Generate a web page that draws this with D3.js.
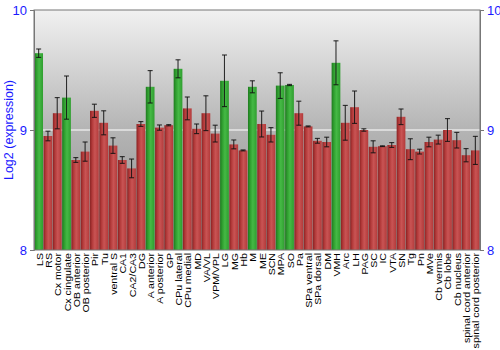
<!DOCTYPE html>
<html>
<head>
<meta charset="utf-8">
<script src="https://cdn.jsdelivr.net/npm/d3@7"></script>
<style>
  html, body { margin: 0; padding: 0; background: #fff; }
  svg { display: block; }
</style>
</head>
<body>
<svg id="chart" width="500" height="350"></svg>
<script>
// Brain regions
const regions = [
  "LS", "RS", "Cx motor", "Cx cingulate", "OB anterior", "OB posterior", "Pir", "Tu",
  "ventral S", "CA1", "CA2/CA3", "DG", "A anterior", "A posterior", "GP", "CPu lateral",
  "CPu medial", "MD", "VA/VL", "VPM/VPL", "LG", "MG", "Hb", "M", "ME", "SCN", "MPA", "SO",
  "Pa", "SPa ventral", "SPa dorsal", "DM", "VMH", "Arc", "LH", "PAG", "SC", "IC", "VTA",
  "SN", "Tg", "Pn", "MVe", "Cb vermis", "Cb lobe", "Cb nucleus", "spinal cord anterior",
  "spinal cord posterior"
];

// Mean log2 expression per region
const expression = [
  9.64, 8.95, 9.14, 9.27, 8.75, 8.82, 9.16, 9.06,
  8.87, 8.75, 8.68, 9.05, 9.36, 9.02, 9.04, 9.51,
  9.18, 9.01, 9.14, 8.97, 9.41, 8.88, 8.83, 9.36, 9.05, 8.96, 9.37, 9.375,
  9.14, 9.03, 8.91, 8.90, 9.56, 9.06, 9.19, 9.00, 8.86, 8.865, 8.875,
  9.11, 8.84, 8.82, 8.90, 8.92, 9.00, 8.915, 8.79,
  8.83
];

// Standard error per region
const stdErr = [
  0.035, 0.04, 0.13, 0.18, 0.02, 0.08, 0.055, 0.10,
  0.065, 0.028, 0.078, 0.02, 0.135, 0.022, 0.005, 0.075,
  0.095, 0.04, 0.145, 0.07, 0.215, 0.037, 0.004, 0.05, 0.108, 0.06, 0.107, 0.005,
  0.10, 0.004, 0.02, 0.04, 0.183, 0.145, 0.135, 0.01, 0.05, 0.003, 0.02,
  0.065, 0.087, 0.02, 0.04, 0.037, 0.095, 0.065, 0.055,
  0.117
];

// Regions flagged as enriched (drawn in green)
const enriched = ["LS", "Cx cingulate", "A anterior", "CPu lateral", "LG", "M", "MPA", "SO", "VMH"];

const yTicks = [8, 9, 10];
const yDomain = [8, 10];

const margin = { left: 34, right: 20, top: 10, bottom: 100 };
const W = 500, H = 350;
const iw = W - margin.left - margin.right;
const ih = H - margin.top - margin.bottom;

const svg = d3.select("#chart");
const defs = svg.append("defs");

// Background shading
const bg = defs.append("linearGradient").attr("id", "bgGrad")
  .attr("x1", 0).attr("y1", 0).attr("x2", 0).attr("y2", 1);
bg.append("stop").attr("offset", "0%").attr("stop-color", "#f1f1f1");
bg.append("stop").attr("offset", "50%").attr("stop-color", "#b4b4b4");
bg.append("stop").attr("offset", "100%").attr("stop-color", "#8c8c8c");

// Cylinder-like bar shading
function barGradient(id, dark, mid, light) {
  const g = defs.append("linearGradient").attr("id", id)
    .attr("x1", 0).attr("y1", 0).attr("x2", 1).attr("y2", 0);
  g.append("stop").attr("offset", "0%").attr("stop-color", dark);
  g.append("stop").attr("offset", "25%").attr("stop-color", mid);
  g.append("stop").attr("offset", "55%").attr("stop-color", light);
  g.append("stop").attr("offset", "100%").attr("stop-color", mid);
}
barGradient("redGrad", "#8a2222", "#b33a3a", "#c95454");
barGradient("greenGrad", "#1f7a1f", "#2f9e2f", "#45b945");

const g = svg.append("g").attr("transform", `translate(${margin.left},${margin.top})`);

const x = d3.scaleBand().domain(regions).range([0, iw]).paddingInner(0.06).paddingOuter(0.03);
const y = d3.scaleLinear().domain(yDomain).range([ih, 0]);

g.append("rect").attr("width", iw).attr("height", ih).attr("fill", "url(#bgGrad)");

// Gridlines
g.append("g").selectAll("line").data(yTicks.slice(1, -1)).join("line")
  .attr("x1", 0).attr("x2", iw)
  .attr("y1", d => y(d)).attr("y2", d => y(d))
  .attr("stroke", "#ffffff").attr("stroke-width", 1.2);

const data = regions.map((r, i) => ({ r, v: expression[i], e: stdErr[i] }));

// Bars
g.append("g").selectAll("rect").data(data).join("rect")
  .attr("x", d => x(d.r))
  .attr("width", x.bandwidth())
  .attr("y", d => y(d.v))
  .attr("height", d => ih - y(d.v))
  .attr("fill", d => enriched.includes(d.r) ? "url(#greenGrad)" : "url(#redGrad)");

// Error bars
const eb = g.append("g").attr("stroke", "#111").attr("stroke-opacity", 0.85).attr("stroke-width", 1.1);
data.forEach(d => {
  const cx = x(d.r) + x.bandwidth() / 2;
  const y0 = y(d.v - d.e), y1 = y(d.v + d.e);
  eb.append("line").attr("x1", cx).attr("x2", cx).attr("y1", y0).attr("y2", y1);
  eb.append("line").attr("x1", cx - 2.5).attr("x2", cx + 2.5).attr("y1", y0).attr("y2", y0);
  eb.append("line").attr("x1", cx - 2.5).attr("x2", cx + 2.5).attr("y1", y1).attr("y2", y1);
});

// Frame
g.append("rect").attr("width", iw).attr("height", ih)
  .attr("fill", "none").attr("stroke", "#777").attr("stroke-width", 1);

// Y axes on both sides
const styleAxis = sel => {
  sel.select(".domain").attr("stroke", "#777");
  sel.selectAll(".tick line").attr("stroke", "#777");
  sel.selectAll(".tick text").attr("fill", "#1a1aff")
    .attr("font-family", "Liberation Sans, Arial, sans-serif").attr("font-size", 13);
};
g.append("g").call(d3.axisLeft(y).tickValues(yTicks).tickFormat(d3.format("d")).tickSize(4).tickPadding(3)).call(styleAxis);
g.append("g").attr("transform", `translate(${iw},0)`)
  .call(d3.axisRight(y).tickValues(yTicks).tickFormat(d3.format("d")).tickSize(4).tickPadding(3)).call(styleAxis);

// Category labels (narrow glyphs, read bottom-to-top)
g.append("g").selectAll("text").data(regions).join("text")
  .attr("transform", d => `translate(${x(d) + x.bandwidth() / 2 + 4},${ih + 3}) rotate(-90) scale(1,0.9)`)
  .attr("text-anchor", "end")
  .attr("font-family", "Liberation Sans, Arial, sans-serif")
  .attr("font-size", 10.6)
  .attr("fill", "#000")
  .text(d => d);

// Y axis title
svg.append("text")
  .attr("transform", `translate(13,${margin.top + ih / 2}) rotate(-90)`)
  .attr("text-anchor", "middle")
  .attr("font-family", "Liberation Sans, Arial, sans-serif")
  .attr("font-size", 12.5)
  .attr("fill", "#1a1aff")
  .text("Log2 (expression)");
</script>
</body>
</html>
